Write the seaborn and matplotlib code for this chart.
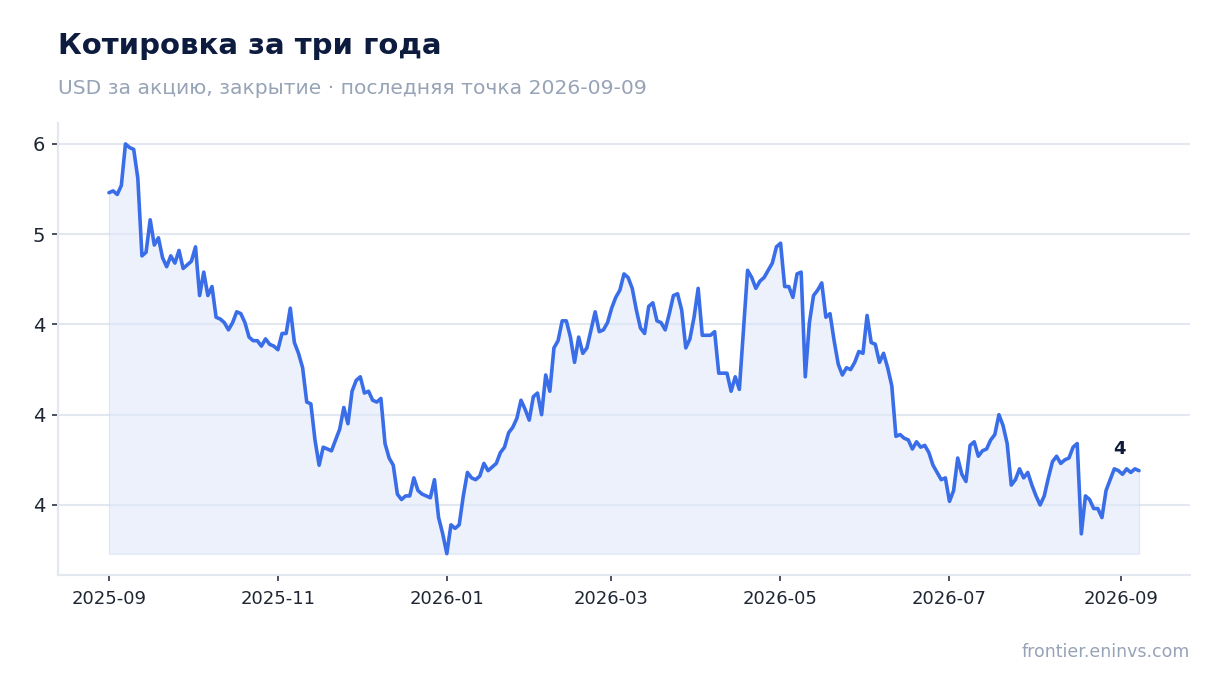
import numpy as np
import pandas as pd
import matplotlib
matplotlib.use("Agg")
import matplotlib.pyplot as plt
import matplotlib.dates as mdates
from matplotlib.ticker import StrMethodFormatter, FixedLocator
import seaborn as sns

# ---------------- data ----------------
start_date = "2025-09-01"
end_date = "2026-09-07 10:00"
prices = [
    5.23, 5.24, 5.22, 5.27, 5.50, 5.48, 5.47, 5.31, 4.88, 4.90,
    5.08, 4.94, 4.98, 4.87, 4.82, 4.88, 4.84, 4.91, 4.81, 4.83,
    4.85, 4.93, 4.66, 4.79, 4.66, 4.71, 4.54, 4.53, 4.51, 4.47,
    4.51, 4.57, 4.56, 4.51, 4.43, 4.41, 4.41, 4.38, 4.42, 4.39,
    4.38, 4.36, 4.45, 4.45, 4.59, 4.40, 4.34, 4.26, 4.07, 4.06,
    3.86, 3.72, 3.82, 3.81, 3.80, 3.86, 3.92, 4.04, 3.95, 4.13,
    4.19, 4.21, 4.12, 4.13, 4.08, 4.07, 4.09, 3.84, 3.76, 3.72,
    3.56, 3.53, 3.55, 3.55, 3.65, 3.58, 3.56, 3.55, 3.54, 3.64,
    3.43, 3.34, 3.23, 3.39, 3.37, 3.39, 3.55, 3.68, 3.65, 3.64,
    3.66, 3.73, 3.69, 3.71, 3.73, 3.79, 3.82, 3.90, 3.93, 3.98,
    4.08, 4.03, 3.97, 4.10, 4.12, 4.00, 4.22, 4.13, 4.37, 4.41,
    4.52, 4.52, 4.43, 4.29, 4.43, 4.34, 4.37, 4.47, 4.57, 4.46,
    4.47, 4.51, 4.59, 4.65, 4.69, 4.78, 4.76, 4.70, 4.58, 4.48,
    4.45, 4.60, 4.62, 4.52, 4.51, 4.47, 4.56, 4.66, 4.67, 4.58,
    4.37, 4.42, 4.54, 4.70, 4.44, 4.44, 4.44, 4.46, 4.23, 4.23,
    4.23, 4.13, 4.21, 4.14, 4.47, 4.80, 4.76, 4.70, 4.74, 4.76,
    4.80, 4.84, 4.93, 4.95, 4.71, 4.71, 4.65, 4.78, 4.79, 4.21,
    4.51, 4.66, 4.69, 4.73, 4.54, 4.56, 4.41, 4.28, 4.22, 4.26,
    4.25, 4.29, 4.35, 4.34, 4.55, 4.40, 4.39, 4.29, 4.34, 4.26,
    4.16, 3.88, 3.89, 3.87, 3.86, 3.81, 3.85, 3.82, 3.83, 3.79,
    3.72, 3.68, 3.64, 3.65, 3.52, 3.58, 3.76, 3.67, 3.63, 3.83,
    3.85, 3.77, 3.80, 3.81, 3.86, 3.89, 4.00, 3.94, 3.84, 3.61,
    3.64, 3.70, 3.65, 3.68, 3.61, 3.55, 3.50, 3.55, 3.65, 3.74,
    3.77, 3.73, 3.75, 3.76, 3.82, 3.84, 3.34, 3.55, 3.53, 3.48,
    3.48, 3.43, 3.58, 3.64, 3.70, 3.69, 3.67, 3.70, 3.68, 3.70,
    3.69,
]
y_ticks = [3.5, 4.0, 4.5, 5.0, 5.5]
title = "Котировка за три года"
subtitle = "USD за акцию, закрытие · последняя точка 2026-09-09"
source = "frontier.eninvs.com"

dates = pd.date_range(start_date, end_date, periods=len(prices))
df = pd.DataFrame({"date": dates, "price": prices})

# ---------------- style ----------------
sns.set_theme(style="white")
plt.rcParams["font.family"] = ["DejaVu Sans"]

line_color = "#3a6ee8"
fill_color = "#dfe7fb"
grid_color = "#e3e7ef"
navy = "#0d1b3e"

fig = plt.figure(figsize=(12.2, 6.93), dpi=100)
ax = fig.add_axes([0.0475, 0.1703, 0.9279, 0.6522])

base = df["price"].min()
ax.fill_between(df["date"], df["price"], base, facecolor=fill_color, alpha=0.55,
                edgecolor="#c9d6f5", linewidth=0.8, zorder=1)
sns.lineplot(data=df, x="date", y="price", ax=ax, color=line_color,
             linewidth=2.6, zorder=3)

t0 = pd.Timestamp(start_date)
ax.set_xlim(t0 - pd.Timedelta(days=18.4), t0 + pd.Timedelta(days=389.8))
ax.set_ylim(3.112, 5.616)

ax.yaxis.set_major_locator(FixedLocator(y_ticks))
ax.yaxis.set_major_formatter(StrMethodFormatter("{x:.0f}"))
ax.xaxis.set_major_locator(mdates.MonthLocator(bymonth=[1, 3, 5, 7, 9, 11]))
ax.xaxis.set_major_formatter(mdates.DateFormatter("%Y-%m"))

ax.grid(axis="y", color=grid_color, linewidth=1.5, zorder=0)
ax.grid(axis="x", visible=False)
ax.set_axisbelow(True)

for side in ["top", "right"]:
    ax.spines[side].set_visible(False)
for side in ["left", "bottom"]:
    ax.spines[side].set_color(grid_color)
    ax.spines[side].set_linewidth(1.5)

ax.tick_params(axis="y", left=True, labelsize=14, colors="#1f2633", length=4,
               width=1.3, color="#3c4250", pad=5)
ax.tick_params(axis="x", bottom=True, labelsize=13, colors="#1f2633", length=4,
               width=1.3, color="#3c4250", pad=7)
ax.set_xlabel("")
ax.set_ylabel("")

last = df.iloc[-1]
ax.annotate(f"{last['price']:.0f}", xy=(last["date"], last["price"]),
            xytext=(-14, 9), textcoords="offset points", ha="center",
            va="bottom", fontsize=13, fontweight="bold", color=navy)

fig.text(0.0475, 0.922, title, fontsize=21, fontweight="bold", color=navy,
         ha="left", va="baseline")
fig.text(0.0475, 0.865, subtitle, fontsize=14.6, color="#97a3b6",
         ha="left", va="baseline")
fig.text(0.9754, 0.052, source, fontsize=12.5, color="#97a3b6",
         ha="right", va="baseline")

fig.savefig("out.png", dpi=100)
